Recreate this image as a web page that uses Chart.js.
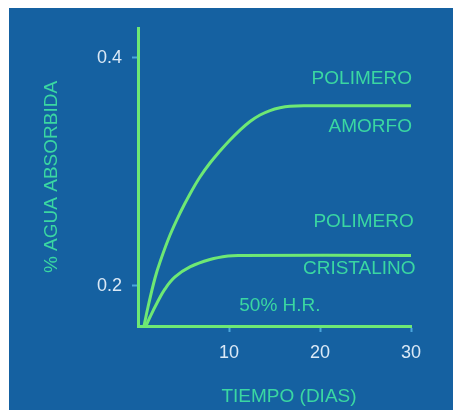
<!DOCTYPE html>
<html>
<head>
<meta charset="utf-8">
<script src="https://cdn.jsdelivr.net/npm/chart.js@4/dist/chart.umd.min.js"></script>
<style>
  body { margin: 0; background: #ffffff; }
  #panel { position: absolute; left: 9px; top: 8px; width: 444px; height: 402px; background: #1561a1; }
  #chart { position: absolute; left: 0; top: 0; }
</style>
</head>
<body>
<div id="panel"></div>
<canvas id="chart" width="453" height="410"></canvas>
<script>
// curva polimero amorfo (dias, % agua)
const amorfoDias = [0.66, 1.10, 1.87, 2.42, 3.52, 4.62, 5.71, 6.81, 7.91, 9.01, 10.11, 11.21, 12.31, 13.41, 14.51, 15.6, 16.7, 18.35, 30];
const amorfoAgua = [0.1649, 0.1816, 0.2070, 0.2211, 0.2447, 0.2640, 0.2807, 0.2956, 0.3079, 0.3184, 0.3281, 0.3368, 0.3443, 0.3500, 0.3539, 0.3563, 0.3576, 0.3580, 0.3580];

// curva polimero cristalino
const cristalDias = [0.88, 1.32, 2.09, 2.97, 4.07, 5.71, 7.91, 9.89, 11.2, 30];
const cristalAgua = [0.1649, 0.1728, 0.1851, 0.1974, 0.2079, 0.2167, 0.2232, 0.2263, 0.2268, 0.2268];

const xTicks = [10, 20, 30];
const yTicks = [0.2, 0.4];

const verde = '#6ee874';
const verdeTexto = '#3ad7a2';
const FONT = '"Liberation Sans", Arial, sans-serif';

const toPoints = (xs, ys) => xs.map((x, i) => ({ x: x, y: ys[i] }));

// textos sobre la grafica
const etiquetas = {
    id: 'etiquetas',
    afterDatasetsDraw(chart) {
        const { ctx, scales: { x, y } } = chart;
        ctx.save();
        ctx.fillStyle = verdeTexto;
        ctx.font = '19px ' + FONT;
        ctx.textBaseline = 'middle';
        ctx.textAlign = 'right';
        ctx.fillText('POLIMERO', x.getPixelForValue(30.1), y.getPixelForValue(0.3816));
        ctx.fillText('AMORFO', x.getPixelForValue(30.1), y.getPixelForValue(0.3395));
        ctx.fillText('POLIMERO', x.getPixelForValue(30.3), y.getPixelForValue(0.2561));
        ctx.fillText('CRISTALINO', x.getPixelForValue(30.5), y.getPixelForValue(0.2149));
        ctx.textAlign = 'center';
        ctx.fillText('50% H.R.', x.getPixelForValue(15.6), y.getPixelForValue(0.1825));
        // titulo eje x
        ctx.fillText('TIEMPO (DIAS)', 289, 397);
        ctx.restore();
    }
};

new Chart(document.getElementById('chart'), {
    type: 'line',
    data: {
        datasets: [
            {
                data: toPoints(amorfoDias, amorfoAgua),
                borderColor: verde,
                borderWidth: 3,
                pointRadius: 0,
                tension: 0.4,
                clip: false
            },
            {
                data: toPoints(cristalDias, cristalAgua),
                borderColor: verde,
                borderWidth: 3,
                pointRadius: 0,
                tension: 0.4,
                clip: false
            }
        ]
    },
    options: {
        responsive: false,
        animation: false,
        layout: { padding: { left: 40, top: 28, right: 42, bottom: 0 } },
        plugins: { legend: { display: false }, tooltip: { enabled: false } },
        scales: {
            x: {
                type: 'linear',
                min: 0,
                max: 30,
                afterBuildTicks: (s) => { s.ticks = xTicks.map(v => ({ value: v })); },
                afterFit: (s) => { s.height = 84; },
                ticks: { color: '#dbe9f6', font: { family: FONT, size: 18 }, padding: 10, maxRotation: 0 },
                grid: { drawOnChartArea: false, drawTicks: true, tickLength: 6, tickWidth: 2, tickColor: '#4aa6dc' },
                border: { color: verde, width: 3 }
            },
            y: {
                min: 0.1649,
                max: 0.4263,
                afterBuildTicks: (s) => { s.ticks = yTicks.map(v => ({ value: v })); },
                afterFit: (s) => { s.width = 98; },
                ticks: {
                    color: '#dbe9f6',
                    font: { family: FONT, size: 18 },
                    padding: 10,
                    callback: (v) => v.toFixed(1)
                },
                grid: { drawOnChartArea: false, drawTicks: true, tickLength: 6, tickWidth: 2, tickColor: '#4aa6dc' },
                border: { color: verde, width: 3 },
                title: {
                    display: true,
                    text: '% AGUA ABSORBIDA',
                    color: verdeTexto,
                    font: { family: FONT, size: 19 },
                    padding: { top: 0, bottom: 0 }
                }
            }
        }
    },
    plugins: [etiquetas]
});
</script>
</body>
</html>
